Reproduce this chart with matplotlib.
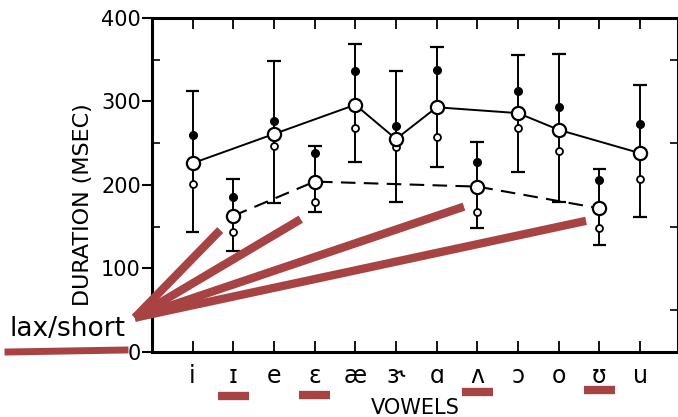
"""
Vowel duration chart (tense vs lax) with red lax/short markup.
"""

import numpy as np
from matplotlib import pyplot as plt

vowels = ['i', 'ɪ', 'e', 'ɛ', 'æ', 'ɝ', 'ɑ', 'ʌ', 'ɔ', 'o', 'ʊ', 'u']
mean_dur = [226, 163, 261, 204, 296, 255, 293, 198, 286, 266, 172, 238]
upper_dur = [260, 185, 277, 238, 337, 271, 338, 227, 312, 293, 206, 273]
lower_dur = [201, 144, 247, 180, 268, 245, 257, 168, 268, 241, 148, 207]
bar_top = [313, 207, 348, 247, 369, 337, 365, 251, 356, 357, 219, 320]
bar_bottom = [144, 121, 178, 167, 227, 179, 221, 148, 216, 180, 128, 162]
lax = ['ɪ', 'ɛ', 'ʌ', 'ʊ']

# where the red pointer lines end (data coords), one per lax vowel
pointer_x = [1.68, 3.66, 7.67, 10.67]
pointer_y = [146, 159, 174, 157]
pointer_start = (-0.42, 41)

red = '#a84343'


def main():
    fig = plt.figure(figsize=(6.78, 4.17), dpi=100)
    ax = fig.add_axes([0.224, 0.156, 0.776, 0.801])

    x = np.arange(1, len(vowels) + 1)
    is_lax = np.array([v in lax for v in vowels])
    mean = np.array(mean_dur)

    # error bars
    ax.vlines(x, bar_bottom, bar_top, color='black', lw=1.4, zorder=2)
    ax.hlines(bar_top, x - 0.17, x + 0.17, color='black', lw=1.6, zorder=2)
    ax.hlines(bar_bottom, x - 0.17, x + 0.17, color='black', lw=1.6, zorder=2)

    # connecting lines
    ax.plot(x[~is_lax], mean[~is_lax], color='black', lw=1.4, zorder=3)
    ax.plot(x[is_lax], mean[is_lax], color='black', lw=1.5, ls=(0, (7, 4)), zorder=3)

    ax.plot(x, upper_dur, 'o', ms=5.5, color='black', zorder=4)
    ax.plot(x, lower_dur, 'o', ms=5, mfc='white', mec='black', mew=1.3, zorder=4)
    ax.plot(x, mean_dur, 'o', ms=9.5, mfc='white', mec='black', mew=1.6, zorder=5)

    ax.set_xlim(0, 12.93)
    ax.set_ylim(0, 400)
    ax.set_xticks(x)
    ax.set_xticklabels(vowels, fontsize=17)
    ax.set_yticks([0, 100, 200, 300, 400])
    ax.set_yticks([50, 150, 250, 350], minor=True)
    ax.tick_params(axis='y', which='major', direction='out', length=7, width=1.5,
                   labelsize=15, pad=1)
    ax.tick_params(axis='y', which='minor', direction='in', length=6, width=1.2)
    ax.tick_params(axis='x', direction='in', length=8, width=1.3, top=True, pad=9)
    ax.tick_params(axis='y', which='both', right=True)
    for s in ax.spines.values():
        s.set_linewidth(2.2)

    ax.set_xlabel('VOWELS', fontsize=15, labelpad=7)
    ax.set_ylabel('DURATION (MSEC)', fontsize=16)
    ax.yaxis.set_label_coords(-0.112, 0.44)

    # red markup: text, fan of pointers, underlines
    fig.text(67 / 678, 1 - 329 / 417, 'lax/short', fontsize=19, ha='center', va='center')
    fig.add_artist(plt.Line2D([8 / 678, 125 / 678], [1 - 352 / 417, 1 - 350 / 417],
                              color=red, lw=5))
    for px, py in zip(pointer_x, pointer_y):
        ax.plot([pointer_start[0], px], [pointer_start[1], py], color=red, lw=6,
                solid_capstyle='butt', clip_on=False, zorder=6)

    for i, v in enumerate(vowels):
        if v in lax:
            ax.plot([x[i] - 0.38, x[i] + 0.38], [-54 + i * 0.8, -54 + i * 0.8],
                    color=red, lw=6, solid_capstyle='butt', clip_on=False)

    plt.savefig('out.png', dpi=100)


if __name__ == "__main__":
    main()
